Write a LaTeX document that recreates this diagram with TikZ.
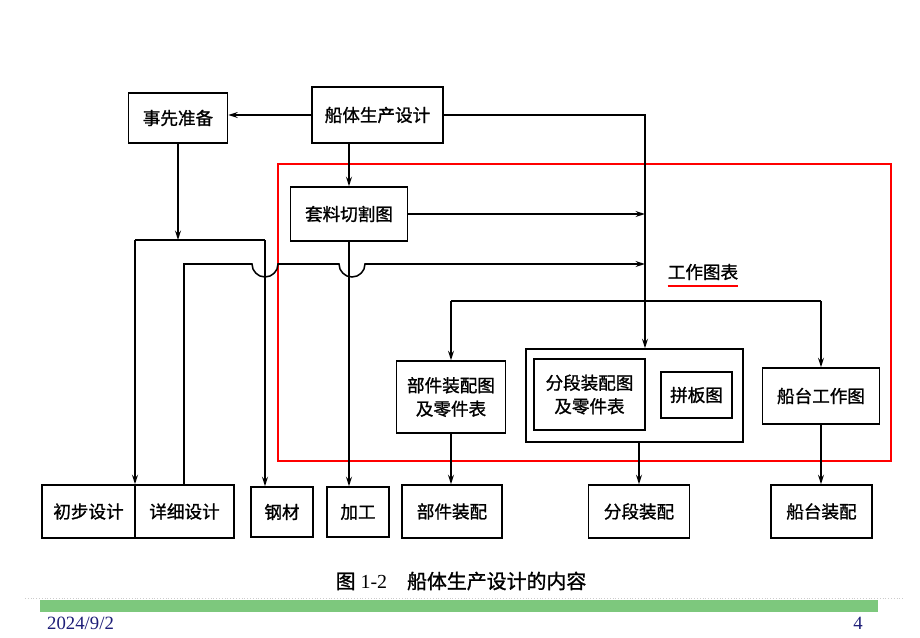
\documentclass[tikz,border=0pt]{standalone}
\usepackage{fontspec}
\usetikzlibrary{arrows.meta}
\setmainfont{Liberation Serif}
\newfontfamily\cjk[FakeBold=1.2]{Noto Sans CJK SC}
\newlength{\du}
\setlength{\du}{0.03cm}
\definecolor{framered}{rgb}{1.000000, 0.000000, 0.000000}
\definecolor{barcolor}{RGB}{125,200,125}
\definecolor{datecolor}{RGB}{30,30,120}

\begin{document}
\begin{tikzpicture}[
  box/.style={draw=black, line width=1.3pt, inner sep=0pt, align=center,
    font=\cjk\fontsize{15}{20}\selectfont},
  label/.style={inner sep=0pt, font=\cjk\fontsize{15}{20}\selectfont},
  line/.style={draw=black, line width=1.3pt},
  arr/.style={line, -{Stealth[length=8pt,width=5pt]}}]
\pgftransformxscale{1.000000}
\pgftransformyscale{-1.000000}
\useasboundingbox (0\du,0\du) rectangle (920\du,637\du);
% red frame round the working drawings
\draw[framered, line width=1.8pt] (278\du,164\du) rectangle (891\du,461\du);
% top row
\node[box, minimum width=99\du, minimum height=50\du] (zxzb) at (178\du,118\du) {事先准备};
\node[box, minimum width=131\du, minimum height=56\du] (ctsc) at (377.5\du,115\du) {船体生产设计};
\node[box, minimum width=117\du, minimum height=54\du] (tlqg) at (349\du,214\du) {套料切割图};
\node[label] (gztb) at (703\du,272\du) {工作图表};
\draw[framered, line width=1.8pt] ([yshift=6\du]gztb.south west) -- ([yshift=6\du]gztb.south east);
% working drawings
\node[box, minimum width=109\du, minimum height=72\du] (bjzpt) at (451\du,397\du) {部件装配图\\及零件表};
\node[box, minimum width=217\du, minimum height=93\du] (fdout) at (634.5\du,395.5\du) {};
\node[box, minimum width=111\du, minimum height=71\du] (fdzpt) at (589.5\du,394.5\du) {分段装配图\\及零件表};
\node[box, minimum width=71\du, minimum height=46\du] (pbt) at (696.5\du,395\du) {拼板图};
\node[box, minimum width=117\du, minimum height=56\du] (ctgzt) at (821\du,396\du) {船台工作图};
% bottom row
\node[box, minimum width=93\du, minimum height=53\du] (cbsj) at (88.5\du,511.5\du) {初步设计};
\node[box, minimum width=99\du, minimum height=53\du] (xxsj) at (184.5\du,511.5\du) {详细设计};
\node[box, minimum width=62\du, minimum height=50\du] (gc) at (282\du,512\du) {钢材};
\node[box, minimum width=62\du, minimum height=50\du] (jg) at (358\du,512\du) {加工};
\node[box, minimum width=100\du, minimum height=53\du] (bjzp) at (452\du,511.5\du) {部件装配};
\node[box, minimum width=101\du, minimum height=53\du] (fdzp) at (639\du,511.5\du) {分段装配};
\node[box, minimum width=101\du, minimum height=53\du] (ctzp) at (821.5\du,511.5\du) {船台装配};
% junction points
\coordinate (tr) at (645\du,115\du);
\coordinate (pa) at (135\du,240\du);
\coordinate (pb) at (265\du,240\du);
\coordinate (dx) at (184\du,264\du);
\coordinate (hl) at (645\du,264\du);
\coordinate (tb) at (645\du,301\du);
% connectors
\draw[arr] (ctsc.west) -- (ctsc.west -| zxzb.east);
\draw[arr] (ctsc.south -| tlqg.north) -- (tlqg.north);
\draw[arr] (ctsc.east) -- (tr) -- (tr |- fdout.north);
\draw[arr] (tlqg.east) -- (tlqg.east -| tr);
\draw[arr] (zxzb.south) -- (zxzb.south |- pa);
\draw[line] (pa) -- (pb);
\draw[arr] (pa) -- (pa |- cbsj.north);
\draw[arr] (pb) -- (pb |- gc.north);
\draw[arr] (dx |- xxsj.north) -- (dx) -- (252\du,264\du) arc (180:0:13\du)
  -- (339\du,264\du) arc (180:0:13\du) -- (hl);
\draw[arr] (tlqg.south) -- (tlqg.south |- jg.north);
\draw[line] (tb -| bjzpt.north) -- (tb -| ctgzt.north);
\draw[arr] (tb -| bjzpt.north) -- (bjzpt.north);
\draw[arr] (tb -| ctgzt.north) -- (ctgzt.north);
\draw[arr] (bjzpt.south) -- (bjzpt.south |- bjzp.north);
\draw[arr] (fdout.south -| fdzp.north) -- (fdzp.north);
\draw[arr] (ctgzt.south) -- (ctgzt.south |- ctzp.north);
% caption and slide footer
\node[inner sep=0pt, font=\fontsize{17}{20}\selectfont] (cap) at (461\du,581\du) {{\cjk 图} 1-2\quad{\cjk 船体生产设计的内容}};
\draw[gray!40, dotted, line width=0.4pt] (25\du,598\du) -- (903\du,598\du);
\fill[barcolor] (40\du,600\du) rectangle (878\du,612\du);
\node[anchor=west, inner sep=0pt, text=datecolor, font=\fontsize{16}{18}\selectfont] (date) at (47\du,623\du) {2024/9/2};
\node[inner sep=0pt, text=datecolor, font=\fontsize{16}{18}\selectfont] (page) at (858\du,623\du) {4};
\end{tikzpicture}
\end{document}
